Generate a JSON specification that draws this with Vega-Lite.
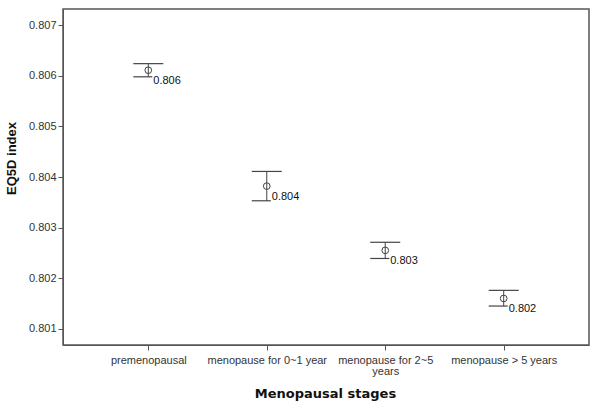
{
  "$schema": "https://vega.github.io/schema/vega-lite/v6.json",
  "autosize": {"type": "none"},
  "width": 526,
  "height": 336,
  "padding": {"left": 63, "top": 9, "right": 11, "bottom": 64},
  "background": "white",
  "config": {
    "view": {"stroke": "#555555", "strokeWidth": 1.5},
    "font": "Liberation Sans",
    "axis": {"grid": false, "domainColor": "#555555", "tickColor": "#555555", "labelColor": "#333333", "labelFont": "Liberation Sans", "titleFont": "Liberation Sans", "titleColor": "#111111"}
  },
  "data": {
    "values": [
      {"stage": "premenopausal", "mean": 0.80611, "lower": 0.80598, "upper": 0.80624},
      {"stage": "menopause for 0~1 year", "mean": 0.80382, "lower": 0.80353, "upper": 0.80411},
      {"stage": "menopause for 2~5 years", "mean": 0.80255, "lower": 0.80239, "upper": 0.80271},
      {"stage": "menopause > 5 years", "mean": 0.8016, "lower": 0.80145, "upper": 0.80176}
    ]
  },
  "encoding": {
    "x": {
      "field": "stage",
      "type": "nominal",
      "sort": null,
      "scale": {"type": "point", "padding": 0.72},
      "axis": {
        "title": "Menopausal stages",
        "titleFont": "DejaVu Sans",
        "titleFontSize": 13,
        "titleFontWeight": "bold",
        "titleX": 262,
        "titleY": 48,
        "titleBaseline": "middle",
        "labelAngle": 0,
        "labelFontSize": 11,
        "labelPadding": 4,
        "tickSize": 5,
        "labelLineHeight": 11,
        "labelExpr": "datum.label == 'menopause for 2~5 years' ? ['menopause for 2~5', 'years'] : datum.label"
      }
    }
  },
  "layer": [
    {
      "mark": {"type": "rule", "color": "#444444", "strokeWidth": 1},
      "encoding": {
        "y": {
          "field": "lower",
          "type": "quantitative",
          "scale": {"domain": [0.80068, 0.80732], "nice": false, "zero": false},
          "axis": {
            "title": "EQ5D index",
            "titleFontSize": 13,
            "titleFontWeight": "bold",
            "titleX": -52,
            "titleY": 149,
            "titleAlign": "center",
            "titleBaseline": "middle",
            "titleAngle": -90,
            "values": [0.801, 0.802, 0.803, 0.804, 0.805, 0.806, 0.807],
            "format": ".3f",
            "labelFontSize": 11,
            "tickSize": 5,
            "labelPadding": 2
          }
        },
        "y2": {"field": "upper"}
      }
    },
    {
      "mark": {"type": "point", "shape": "M-1,0L1,0", "size": 900, "filled": false, "stroke": "#444444", "strokeWidth": 1.2, "opacity": 1},
      "encoding": {"y": {"field": "upper", "type": "quantitative"}}
    },
    {
      "mark": {"type": "point", "shape": "M-1,0L0.27,0", "size": 900, "filled": false, "stroke": "#444444", "strokeWidth": 1.2, "opacity": 1},
      "encoding": {"y": {"field": "lower", "type": "quantitative"}}
    },
    {
      "mark": {"type": "point", "shape": "circle", "size": 45, "filled": false, "stroke": "#444444", "strokeWidth": 1, "opacity": 1},
      "encoding": {"y": {"field": "mean", "type": "quantitative"}}
    },
    {
      "mark": {"type": "text", "align": "left", "baseline": "middle", "dx": 5, "dy": 11, "fontSize": 11, "color": "#111111"},
      "encoding": {
        "y": {"field": "mean", "type": "quantitative"},
        "text": {"field": "mean", "type": "quantitative", "format": ".3f"}
      }
    }
  ]
}
